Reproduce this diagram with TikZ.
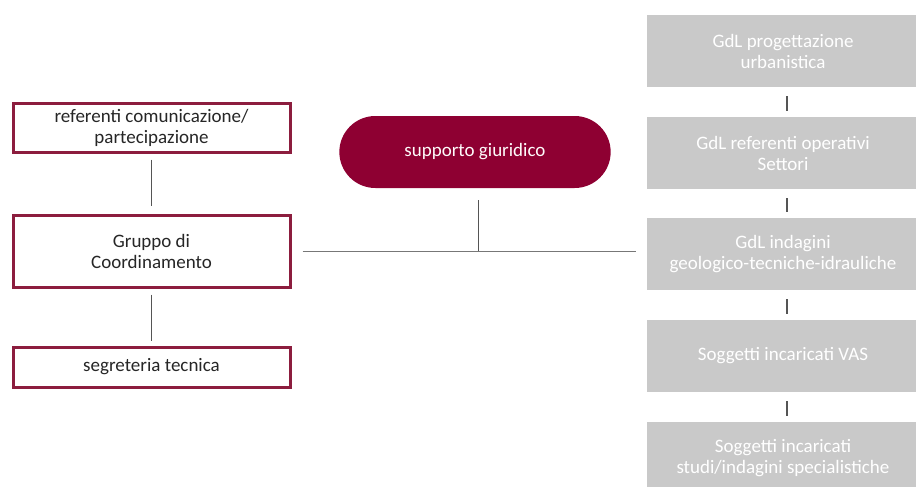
\documentclass[tikz,border=0pt]{standalone}
\usepackage{fontspec}
\setmainfont{Carlito}
\usetikzlibrary{shapes.misc}
\definecolor{wine}{HTML}{8C1D3E}
\definecolor{pillfill}{HTML}{8E0032}
\definecolor{greybox}{HTML}{C9C9C9}
\definecolor{lineg}{HTML}{555555}
\tikzset{
  mytext/.style={font=\fontsize{19}{21}\selectfont},
  redbox/.style={mytext, draw=wine, line width=3pt, fill=white, minimum width=277pt, text=black!85, align=center, inner sep=0pt},
  greyrect/.style={mytext, fill=greybox, minimum width=272pt, minimum height=72pt, text=white, align=center, inner sep=0pt},
  pillbox/.style={mytext, rounded rectangle, fill=pillfill, minimum width=278pt, minimum height=72pt, text=white!94!pink},
  conn/.style={draw=lineg, line width=1pt},
}
\begin{document}
\begin{tikzpicture}[x=1pt,y=-1pt]
\useasboundingbox (0,0) rectangle (916,487);
% left column
\node[redbox, minimum height=49pt] (ref) at (151.5,127.5) {referenti comunicazione/\\partecipazione};
\node[redbox, minimum height=72pt] (gc) at (151.5,251) {Gruppo di\\Coordinamento};
\node[redbox, minimum height=40pt] (seg) at (151.5,367) {segreteria tecnica};
% pill
\node[pillbox] (sg) at (475,152) {supporto giuridico};
% right column
\node[greyrect] (r1) at (783,51) {GdL progettazione\\urbanistica};
\node[greyrect] (r2) at (783,153) {GdL referenti operativi\\Settori};
\node[greyrect] (r3) at (783,254) {GdL indagini\\geologico-tecniche-idrauliche};
\node[greyrect] (r4) at (783,356) {Soggetti incaricati VAS};
\node[greyrect] (r5) at (783,458) {Soggetti incaricati\\studi/indagini specialistiche};
% connectors
\draw[conn, shorten <=6pt, shorten >=8pt] (ref.south) -- (gc.north);
\draw[conn, shorten <=6pt, shorten >=5pt] (gc.south) -- (seg.north);
\draw[draw=lineg!80, line width=0.9pt, shorten <=11pt, shorten >=11pt] (gc.east) -- (gc.east -| r3.west);
\draw[conn, shorten <=12pt, shorten >=2pt] (sg.south -| 478,0) -- (478,253);
\foreach \a/\b in {r1/r2,r2/r3,r3/r4,r4/r5}{
  \draw[conn, line width=1.3pt, shorten <=9pt, shorten >=6pt] ([xshift=4pt]\a.south) -- ([xshift=4pt]\b.north);
}
\end{tikzpicture}
\end{document}
